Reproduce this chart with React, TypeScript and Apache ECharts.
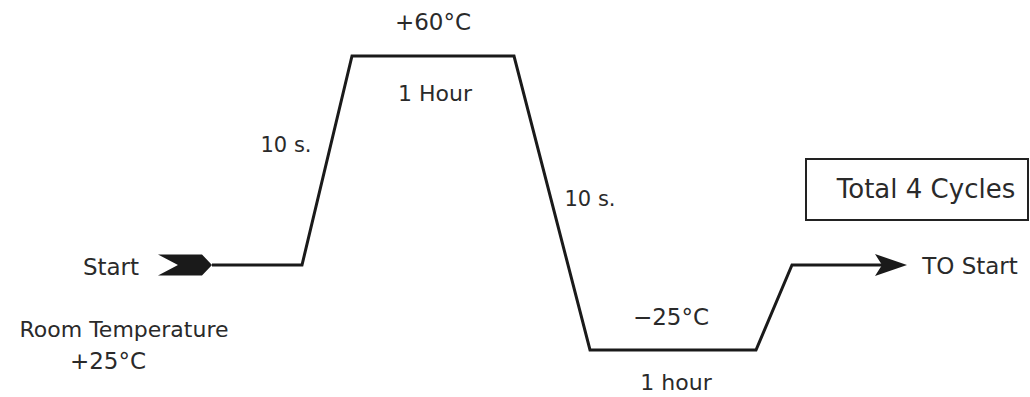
import React, { useEffect, useRef } from "react";
import * as echarts from "echarts";

// Schematic time positions of the profile's corners (diagram units along the time axis)
const profileTime = [212, 302, 352, 514, 590, 756, 792, 882];
// Schematic height of each temperature level (diagram units)
const LEVEL_COLD = 0; // -25°C
const LEVEL_ROOM = 85; // +25°C
const LEVEL_HOT = 294; // +60°C
const profileLevel = [LEVEL_ROOM, LEVEL_ROOM, LEVEL_HOT, LEVEL_HOT, LEVEL_COLD, LEVEL_COLD, LEVEL_ROOM, LEVEL_ROOM];

// Arrow markers (time position of marker centre, level)
const startArrowTime = 185;
const endArrowTime = 891;

// Labels
const labelTexts = {
  hot: "+60°C",
  hotDuration: "1 Hour",
  rampUp: "10 s.",
  rampDown: "10 s.",
  cycles: "Total 4 Cycles",
  toStart: "TO Start",
  start: "Start",
  room: "Room Temperature",
  roomTemp: "+25°C",
  cold: "−25°C",
  coldDuration: "1 hour",
};

const FONT = '"DejaVu Sans", sans-serif';
const TEXT_COLOR = "#2a2a2a";
const LINE_COLOR = "#1a1a1a";

function txt(text: string, x: number, y: number, size = 22) {
  return {
    type: "text",
    x,
    y,
    silent: true,
    style: {
      text,
      fill: TEXT_COLOR,
      font: `${size}px ${FONT}`,
      textAlign: "center",
      textVerticalAlign: "middle",
    },
  };
}

export default function App() {
  const ref = useRef<HTMLDivElement>(null);

  useEffect(() => {
    if (!ref.current) return;
    const chart = echarts.init(ref.current, null, { renderer: "svg" });
    const data = profileTime.map((t, i) => [t, profileLevel[i]]);
    chart.setOption({
      animation: false,
      backgroundColor: "#ffffff",
      grid: { left: 0, right: 0, top: 0, bottom: 0 },
      xAxis: { type: "value", min: 0, max: 1030, show: false },
      yAxis: { type: "value", min: -47, max: 350, show: false },
      series: [
        {
          type: "line",
          data,
          symbol: "none",
          silent: true,
          lineStyle: { color: LINE_COLOR, width: 3, join: "miter" },
          markPoint: {
            silent: true,
            label: { show: false },
            itemStyle: { color: LINE_COLOR },
            data: [
              {
                coord: [startArrowTime, LEVEL_ROOM],
                symbol: "path://M0,0 L44,0 L54,10.5 L44,21 L0,21 L20,10.5 Z",
                symbolSize: [54, 21],
                symbolKeepAspect: false,
              },
              {
                coord: [endArrowTime, LEVEL_ROOM],
                symbol: "path://M0,0 L32,11 L0,22 L7,11 Z",
                symbolSize: [32, 22],
                symbolKeepAspect: false,
              },
            ],
          },
        },
      ],
      graphic: [
        {
          type: "rect",
          silent: true,
          shape: { x: 806, y: 159, width: 222, height: 61 },
          style: { fill: "none", stroke: "#222", lineWidth: 2 },
        },
        txt(labelTexts.hot, 433, 22, 23),
        txt(labelTexts.hotDuration, 435, 93, 22),
        txt(labelTexts.rampUp, 286, 145, 21),
        txt(labelTexts.rampDown, 590, 199, 21),
        txt(labelTexts.cycles, 926, 189, 26),
        txt(labelTexts.toStart, 970, 266, 23),
        txt(labelTexts.start, 111, 267, 23),
        txt(labelTexts.room, 124, 329, 22),
        txt(labelTexts.roomTemp, 108, 361, 23),
        txt(labelTexts.cold, 671, 317, 23),
        txt(labelTexts.coldDuration, 676, 382, 22),
      ],
    });
    return () => chart.dispose();
  }, []);

  return (
    <div
      ref={ref}
      style={{ position: "fixed", left: 0, top: 0, width: 1030, height: 397, background: "#fff" }}
    />
  );
}
